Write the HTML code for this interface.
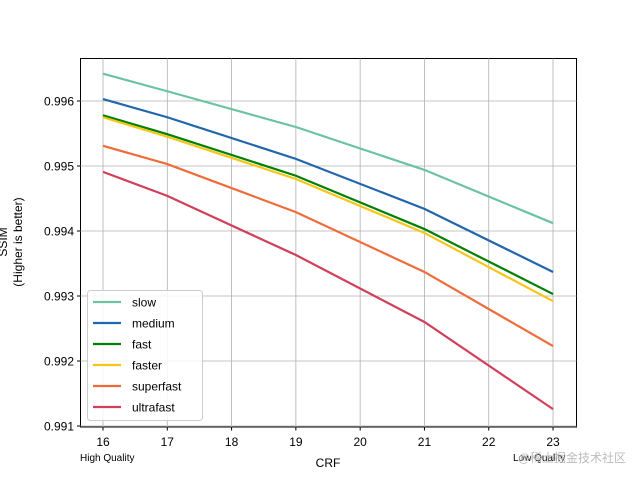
<!DOCTYPE html>
<html><head><meta charset="utf-8"><style>
html,body{margin:0;padding:0;background:#fff;}
svg{display:block;font-family:"Liberation Sans","DejaVu Sans","Noto Sans CJK SC",sans-serif;}
</style></head><body>
<svg id="chart" width="640" height="480">
<rect x="80.5" y="58.5" width="496" height="368.5" fill="none" stroke="#000" stroke-width="1"/>
<g id="grid"></g><g id="series"></g><g id="ticks"></g>
<text x="14" y="242" font-size="12" text-anchor="middle" transform="rotate(-90 14 242)"><tspan x="14" dy="-7">SSIM</tspan><tspan x="14" dy="15">(Higher is better)</tspan></text>
<text x="328" y="467" font-size="12" text-anchor="middle">CRF</text>
<text x="80" y="461" font-size="10">High Quality</text>
<text x="513" y="461" font-size="10">Low Quality</text>
<text x="626" y="462" font-size="12" fill="#bbb" text-anchor="end">@稀土掘金技术社区</text>
<g id="legend"></g>
</svg>
<script>
const crf=[16,17,19,21,23];
const xTicks=[16,17,18,19,20,21,22,23];
const yTicks=[0.991,0.992,0.993,0.994,0.995,0.996];
const names=["slow","medium","fast","faster","superfast","ultrafast"];
const colors=["#6cc3a0","#2166ac","#008000","#f5c518","#ef6c3a","#d0405a"];
const slow=[0.99642,0.99615,0.9956,0.99494,0.99412];
const medium=[0.99603,0.99575,0.99511,0.99434,0.99337];
const fast=[0.99578,0.99549,0.99485,0.99403,0.99303];
const faster=[0.99575,0.99545,0.9948,0.99397,0.99292];
const superfast=[0.99531,0.99503,0.99429,0.99337,0.99223];
const ultrafast=[0.99491,0.99454,0.99363,0.9926,0.99126];
const series=[slow,medium,fast,faster,superfast,ultrafast];
const NS="http://www.w3.org/2000/svg";
function X(v){return 103+(v-16)*64.29;}
function Y(v){return 426-(v-0.991)*65000;}
function mk(t,a,p){const e=document.createElementNS(NS,t);for(const k in a)e.setAttribute(k,a[k]);p.appendChild(e);return e;}
const g=document.getElementById('grid'),tk=document.getElementById('ticks'),s=document.getElementById('series'),lg=document.getElementById('legend');
xTicks.forEach(v=>{const x=X(v);
const l=mk('line',{x1:x,x2:x,y1:58.5,y2:427,stroke:'#b0b0b0','stroke-width':0.8},g);

mk('line',{x1:x,x2:x,y1:427,y2:430.5,stroke:'#000'},tk);
const t=mk('text',{x:x,y:446,'font-size':12,'text-anchor':'middle'},tk);t.textContent=v;
});
yTicks.forEach(v=>{const y=Y(v);
const l=mk('line',{x1:80.5,x2:576.5,y1:y,y2:y,stroke:'#b0b0b0','stroke-width':0.8},g);

mk('line',{x1:77,x2:80.5,y1:y,y2:y,stroke:'#000'},tk);
const t=mk('text',{x:74,y:y+4.5,'font-size':12,'text-anchor':'end'},tk);t.textContent=v.toFixed(3);
});
series.forEach((d,i)=>{const p=mk('polyline',{points:d.map((v,j)=>X(crf[j])+','+Y(v)).join(' '),fill:'none',stroke:colors[i],'stroke-width':2.2},s);
});
const box=mk('rect',{x:87.5,y:290.5,width:115,height:130,rx:3,fill:'#fff','fill-opacity':0.85,stroke:'#ccc'},lg);

names.forEach((n,i)=>{const y=302+i*21;
mk('line',{x1:93,x2:121,y1:y,y2:y,stroke:colors[i],'stroke-width':2.2},lg);
const t=mk('text',{x:132,y:y+4.5,'font-size':12},lg);t.textContent=n;
});
</script>
</body></html>
